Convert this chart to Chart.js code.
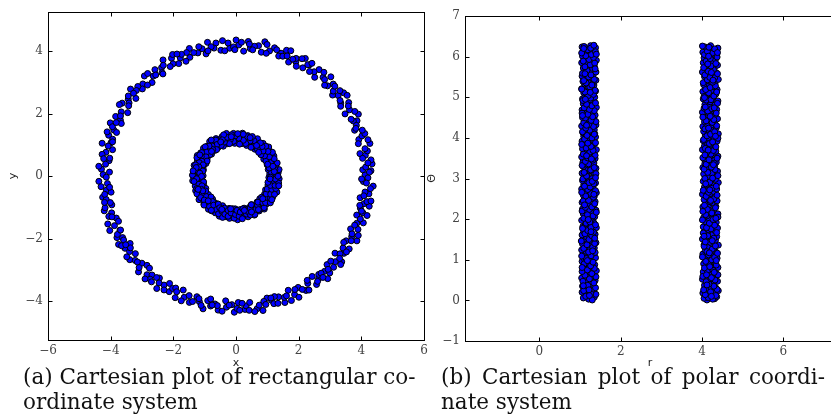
<!DOCTYPE html>
<html>
<head>
<meta charset="utf-8">
<script src="https://cdn.jsdelivr.net/npm/chart.js@4.4.1/dist/chart.umd.min.js"></script>
<style>
  html, body { margin: 0; padding: 0; width: 831px; height: 417px; overflow: hidden; background: #fff; }
  canvas { position: absolute; top: 0; }
  #cartesian { left: 0; }
  #polar { left: 420px; }
  .caption { position: absolute; top: 364px; font-family: "DejaVu Serif", serif; font-size: 21.5px; line-height: 25px; color: #111; }
  .caption div { white-space: nowrap; }
  #capB .first { white-space: normal; text-align: justify; text-align-last: justify; }
  #capA { left: 23px; width: 400px; }
  #capB { left: 441px; width: 384px; }
</style>
</head>
<body>
<canvas id="cartesian" width="440" height="370"></canvas>
<canvas id="polar" width="430" height="372"></canvas>
<div class="caption" id="capA"><div class="first">(a) Cartesian plot of rectangular co-</div><div>ordinate system</div></div>
<div class="caption" id="capB"><div class="first">(b) Cartesian plot of polar coordi-</div><div>nate system</div></div>
<script>
// samples as [r, theta]
const outerRing = [
  [4.12,0.01],[4.31,0.04],[4.05,0.05],[4.36,0.09],[4.18,0.16],[4.02,0.18],[4.27,0.19],[4.40,0.24],[4.09,0.29],[4.22,0.31],
  [4.33,0.32],[4.06,0.37],[4.25,0.43],[4.14,0.44],[4.38,0.47],[4.01,0.52],[4.20,0.53],[4.30,0.58],[4.08,0.61],[4.35,0.66],
  [4.16,0.67],[4.03,0.70],[4.28,0.76],[4.11,0.78],[4.39,0.81],[4.21,0.85],[4.04,0.90],[4.32,0.91],[4.17,0.93],[4.26,0.99],
  [4.07,1.02],[4.37,1.04],[4.13,1.09],[4.23,1.10],[4.02,1.14],[4.34,1.19],[4.19,1.22],[4.08,1.23],[4.29,1.28],[4.15,1.31],
  [4.40,1.36],[4.05,1.37],[4.24,1.40],[4.11,1.46],[4.33,1.48],[4.01,1.51],[4.20,1.55],[4.36,1.57],[4.10,1.62],[4.27,1.63],
  [4.06,1.69],[4.31,1.72],[4.16,1.74],[4.38,1.78],[4.03,1.81],[4.22,1.83],[4.13,1.87],[4.35,1.92],[4.08,1.94],[4.26,1.95],
  [4.18,2.01],[4.04,2.04],[4.30,2.07],[4.12,2.08],[4.39,2.13],[4.21,2.17],[4.07,2.19],[4.28,2.22],[4.15,2.26],[4.02,2.30],
  [4.34,2.31],[4.19,2.36],[4.09,2.39],[4.25,2.40],[4.37,2.45],[4.05,2.48],[4.23,2.52],[4.14,2.54],[4.32,2.57],[4.01,2.61],
  [4.20,2.63],[4.29,2.68],[4.10,2.69],[4.36,2.74],[4.17,2.78],[4.06,2.79],[4.27,2.83],[4.13,2.88],[4.40,2.90],[4.03,2.93],
  [4.22,2.96],[4.33,2.98],[4.08,3.02],[4.18,3.05],[4.30,3.09],[4.04,3.11],[4.24,3.13],[4.38,3.18],[4.11,3.20],[4.16,3.25],
  [4.02,3.27],[4.31,3.30],[4.21,3.32],[4.07,3.37],[4.35,3.40],[4.14,3.43],[4.26,3.45],[4.05,3.48],[4.19,3.53],[4.39,3.55],
  [4.09,3.58],[4.28,3.62],[4.12,3.64],[4.34,3.67],[4.01,3.71],[4.23,3.72],[4.17,3.76],[4.06,3.80],[4.32,3.81],[4.20,3.84],
  [4.10,3.89],[4.37,3.92],[4.03,3.93],[4.25,3.98],[4.15,4.01],[4.29,4.02],[4.08,4.07],[4.40,4.10],[4.18,4.13],[4.04,4.16],
  [4.27,4.19],[4.13,4.20],[4.35,4.25],[4.02,4.28],[4.22,4.31],[4.11,4.34],[4.31,4.36],[4.06,4.40],[4.19,4.43],[4.38,4.47],
  [4.09,4.49],[4.24,4.52],[4.15,4.55],[4.33,4.58],[4.01,4.63],[4.21,4.64],[4.12,4.68],[4.36,4.70],[4.05,4.73],[4.28,4.78],
  [4.17,4.79],[4.07,4.82],[4.30,4.87],[4.20,4.89],[4.39,4.91],[4.03,4.96],[4.14,4.99],[4.26,5.00],[4.10,5.05],[4.34,5.08],
  [4.18,5.09],[4.02,5.14],[4.23,5.17],[4.37,5.19],[4.08,5.22],[4.29,5.26],[4.13,5.30],[4.04,5.31],[4.32,5.35],[4.21,5.39],
  [4.11,5.41],[4.40,5.44],[4.16,5.46],[4.06,5.51],[4.27,5.53],[4.19,5.57],[4.35,5.60],[4.01,5.62],[4.24,5.66],[4.12,5.69],
  [4.30,5.71],[4.08,5.75],[4.38,5.79],[4.17,5.80],[4.03,5.85],[4.25,5.87],[4.14,5.91],[4.33,5.93],[4.05,5.97],[4.22,6.00],
  [4.10,6.03],[4.36,6.06],[4.18,6.07],[4.02,6.11],[4.28,6.15],[4.15,6.16],[4.39,6.21],[4.07,6.24],[4.21,6.27],
  [4.26,0.03],[4.15,0.07],[4.34,0.12],[4.08,0.14],[4.21,0.21],[4.37,0.27],[4.04,0.26],[4.29,0.35],[4.17,0.40],[4.10,0.46],
  [4.32,0.50],[4.23,0.56],[4.02,0.59],[4.39,0.63],[4.13,0.72],[4.27,0.74],[4.06,0.80],[4.19,0.83],[4.35,0.87],[4.09,0.96],
  [4.24,1.00],[4.31,1.06],[4.01,1.07],[4.16,1.12],[4.38,1.16],[4.12,1.20],[4.25,1.26],[4.05,1.33],[4.33,1.34],[4.20,1.43],
  [4.08,1.44],[4.29,1.53],[4.14,1.59],[4.03,1.66],[4.36,1.67],[4.22,1.76],[4.11,1.79],[4.31,1.85],[4.18,1.90],[4.01,1.98],
  [4.27,1.99],[4.39,2.05],[4.09,2.11],[4.24,2.15],[4.13,2.24],[4.33,2.28],[4.06,2.34],[4.20,2.43],[4.29,2.50],[4.10,2.56],
  [4.37,2.59],[4.16,2.66],[4.03,2.71],[4.25,2.76],[4.35,2.81],[4.11,2.85],[4.19,2.91],[4.07,3.00],[4.26,3.01],[4.39,3.07],
  [4.14,3.15],[4.32,3.22],[4.05,3.23],[4.23,3.28],[4.10,3.35],[4.30,3.38],[4.17,3.46],[4.37,3.50],[4.02,3.51],[4.22,3.60],
  [4.13,3.66],[4.28,3.69],[4.08,3.74],[4.34,3.78],[4.18,3.86],[4.26,3.90],[4.04,3.96],[4.39,3.99],[4.12,4.05],[4.21,4.09],
  [4.31,4.15],[4.07,4.22],[4.16,4.24],[4.36,4.30],[4.25,4.38],[4.10,4.42],[4.29,4.45],[4.02,4.51],[4.19,4.57],[4.35,4.61],
  [4.14,4.66],[4.24,4.72],[4.08,4.76],[4.32,4.81],[4.38,4.85],[4.11,4.93],[4.22,4.94],[4.05,5.02],[4.29,5.03],[4.16,5.11],
  [4.36,5.13],[4.09,5.19],[4.20,5.24],[4.33,5.28],[4.03,5.36],[4.26,5.37],[4.13,5.43],[4.31,5.48],[4.19,5.49],[4.07,5.55],
  [4.38,5.58],[4.15,5.64],[4.28,5.68],[4.04,5.73],[4.22,5.77],[4.34,5.83],[4.10,5.89],[4.20,5.95],[4.37,5.99],[4.06,6.05],
  [4.26,6.09],[4.13,6.13],[4.31,6.19],[4.17,6.23],[4.01,6.26],[4.23,0.10],[4.12,0.38],[4.30,0.69],[4.18,1.17],[4.05,1.58],
  [4.34,2.02],[4.21,2.46],[4.09,2.87],[4.28,3.34],[4.15,3.70],[4.33,4.04],[4.20,4.53],[4.06,4.99],[4.27,5.42],[4.14,5.82],
  [4.38,6.10],[4.11,0.63],[4.25,1.47],[4.19,2.72],[4.07,3.58],[4.30,4.74],[4.23,5.61],[4.16,6.01],[4.35,0.98],[4.02,2.19]
];
const innerRing = [
  [1.21,0.03],[1.08,0.06],[1.35,0.08],[1.15,0.13],[1.39,0.15],[1.05,0.20],[1.27,0.22],[1.12,0.25],[1.33,0.28],[1.18,0.33],
  [1.06,0.35],[1.30,0.39],[1.24,0.41],[1.10,0.45],[1.37,0.49],[1.16,0.50],[1.04,0.55],[1.28,0.57],[1.20,0.60],[1.34,0.64],
  [1.09,0.68],[1.25,0.69],[1.40,0.73],[1.13,0.77],[1.31,0.80],[1.07,0.82],[1.22,0.87],[1.36,0.88],[1.17,0.92],[1.05,0.96],
  [1.29,0.98],[1.11,1.01],[1.38,1.05],[1.19,1.07],[1.26,1.12],[1.08,1.14],[1.32,1.16],[1.14,1.21],[1.04,1.24],[1.23,1.26],
  [1.35,1.29],[1.12,1.33],[1.29,1.35],[1.06,1.39],[1.39,1.42],[1.18,1.44],[1.25,1.48],[1.10,1.52],[1.33,1.54],[1.15,1.57],
  [1.05,1.61],[1.37,1.63],[1.21,1.66],[1.09,1.70],[1.30,1.73],[1.16,1.75],[1.40,1.79],[1.07,1.82],[1.24,1.85],[1.13,1.88],
  [1.34,1.91],[1.19,1.95],[1.04,1.97],[1.28,2.00],[1.11,2.04],[1.36,2.06],[1.22,2.10],[1.08,2.13],[1.31,2.15],[1.17,2.19],
  [1.39,2.22],[1.06,2.25],[1.26,2.27],[1.14,2.32],[1.33,2.34],[1.20,2.37],[1.05,2.41],[1.37,2.43],[1.10,2.47],[1.27,2.50],
  [1.16,2.52],[1.35,2.56],[1.08,2.59],[1.23,2.61],[1.40,2.65],[1.12,2.68],[1.30,2.71],[1.04,2.74],[1.18,2.76],[1.32,2.80],
  [1.09,2.84],[1.25,2.85],[1.38,2.89],[1.15,2.92],[1.06,2.95],[1.29,2.98],[1.21,3.01],[1.11,3.04],[1.36,3.07],[1.17,3.10],
  [1.05,3.13],[1.31,3.16],[1.24,3.19],[1.13,3.22],[1.39,3.25],[1.08,3.29],[1.27,3.31],[1.19,3.34],[1.34,3.38],[1.07,3.40],
  [1.22,3.44],[1.14,3.47],[1.37,3.49],[1.04,3.53],[1.28,3.55],[1.16,3.59],[1.33,3.62],[1.10,3.64],[1.25,3.68],[1.40,3.71],
  [1.06,3.73],[1.20,3.77],[1.30,3.80],[1.12,3.83],[1.36,3.86],[1.18,3.89],[1.05,3.92],[1.27,3.95],[1.15,3.98],[1.38,4.02],
  [1.09,4.04],[1.23,4.08],[1.32,4.11],[1.07,4.13],[1.19,4.17],[1.35,4.20],[1.13,4.23],[1.26,4.26],[1.04,4.29],[1.39,4.32],
  [1.17,4.35],[1.29,4.38],[1.10,4.41],[1.22,4.45],[1.34,4.47],[1.06,4.50],[1.16,4.54],[1.37,4.56],[1.24,4.60],[1.11,4.63],
  [1.31,4.65],[1.05,4.69],[1.20,4.72],[1.40,4.75],[1.14,4.78],[1.28,4.81],[1.08,4.84],[1.33,4.87],[1.18,4.90],[1.25,4.94],
  [1.06,4.96],[1.36,5.00],[1.12,5.02],[1.21,5.06],[1.30,5.09],[1.09,5.11],[1.38,5.15],[1.16,5.18],[1.04,5.21],[1.27,5.23],
  [1.19,5.27],[1.34,5.30],[1.11,5.33],[1.23,5.36],[1.07,5.39],[1.39,5.42],[1.15,5.45],[1.29,5.48],[1.05,5.52],[1.32,5.54],
  [1.20,5.57],[1.10,5.61],[1.37,5.63],[1.26,5.67],[1.13,5.70],[1.08,5.72],[1.35,5.76],[1.22,5.79],[1.17,5.82],[1.04,5.85],
  [1.31,5.88],[1.40,5.91],[1.14,5.94],[1.24,5.97],[1.06,6.01],[1.36,6.03],[1.19,6.07],[1.28,6.10],[1.09,6.13],[1.33,6.16],
  [1.16,6.19],[1.38,6.22],[1.05,6.24],[1.26,6.27],
  [1.30,0.01],[1.14,0.10],[1.26,0.17],[1.09,0.24],[1.38,0.31],[1.19,0.37],[1.34,0.43],[1.07,0.47],[1.23,0.53],[1.39,0.58],
  [1.12,0.62],[1.29,0.66],[1.05,0.71],[1.18,0.75],[1.35,0.79],[1.26,0.85],[1.10,0.90],[1.32,0.94],[1.15,1.03],[1.04,1.09],
  [1.27,1.10],[1.37,1.18],[1.21,1.19],[1.09,1.28],[1.31,1.31],[1.17,1.37],[1.36,1.40],[1.03,1.46],[1.22,1.50],[1.29,1.59],
  [1.12,1.64],[1.33,1.68],[1.19,1.72],[1.06,1.77],[1.27,1.80],[1.38,1.86],[1.15,1.90],[1.24,1.93],[1.09,2.02],[1.32,2.08],
  [1.18,2.11],[1.40,2.17],[1.05,2.20],[1.23,2.24],[1.13,2.29],[1.29,2.30],[1.36,2.38],[1.08,2.45],[1.21,2.46],[1.33,2.54],
  [1.14,2.57],[1.27,2.63],[1.04,2.66],[1.38,2.70],[1.19,2.73],[1.25,2.79],[1.11,2.81],[1.34,2.87],[1.22,2.90],[1.07,2.99],
  [1.30,3.00],[1.16,3.06],[1.39,3.12],[1.10,3.15],[1.26,3.21],[1.35,3.27],[1.05,3.32],[1.21,3.36],[1.13,3.42],[1.31,3.45],
  [1.18,3.51],[1.37,3.57],[1.08,3.60],[1.24,3.65],[1.32,3.69],[1.15,3.75],[1.27,3.79],[1.04,3.84],[1.38,3.88],[1.20,3.93],
  [1.11,3.97],[1.29,4.00],[1.17,4.06],[1.36,4.10],[1.06,4.15],[1.24,4.19],[1.14,4.24],[1.33,4.28],[1.21,4.33],[1.09,4.37],
  [1.39,4.40],[1.27,4.43],[1.13,4.49],[1.31,4.52],[1.19,4.58],[1.05,4.61],[1.35,4.67],[1.23,4.70],[1.10,4.74],[1.29,4.79],
  [1.16,4.83],[1.38,4.86],[1.07,4.92],[1.26,4.98],[1.20,5.04],[1.33,5.07],[1.12,5.13],[1.37,5.17],[1.04,5.20],[1.24,5.25],
  [1.30,5.32],[1.15,5.35],[1.09,5.41],[1.35,5.44],[1.21,5.50],[1.27,5.55],[1.06,5.59],[1.39,5.62],[1.17,5.66],[1.31,5.71],
  [1.12,5.75],[1.25,5.80],[1.36,5.84],[1.08,5.89],[1.22,5.93],[1.33,5.98],[1.14,6.02],[1.28,6.05],[1.04,6.09],[1.38,6.12],
  [1.19,6.17],[1.26,6.21],[1.10,6.25],[1.34,6.28],[1.23,0.12],[1.18,0.98],[1.36,1.53],[1.11,2.35],[1.30,2.93],[1.16,3.56],
  [1.35,4.09],[1.06,4.55],[1.25,5.12],[1.37,5.70],[1.08,0.36],[1.31,1.22],[1.20,1.99],[1.28,3.48],[1.13,4.95],[1.40,6.06],
  [1.05,0.81],[1.34,2.61],[1.16,4.31],[1.29,5.30],[1.09,6.20],[1.22,0.26],[1.38,3.02],[1.12,5.58],[1.27,1.69],[1.19,3.87]
];

const cartXTicks = [-6, -4, -2, 0, 2, 4, 6];
const cartYTicks = [-4, -2, 0, 2, 4];
const polarXTicks = [0, 2, 4, 6];
const polarYTicks = [-1, 0, 1, 2, 3, 4, 5, 6, 7];

const samples = outerRing.concat(innerRing);
const cartPoints = samples.map(([r, t]) => ({ x: r * Math.cos(t), y: r * Math.sin(t) }));
const polarPoints = samples.map(([r, t]) => ({ x: r, y: t }));

const fmt = v => v < 0 ? '\u2212' + Math.abs(v) : String(v);
const tickFont = { family: '"DejaVu Serif", serif', size: 12 };

// matplotlib-style box: full frame, ticks pointing inward, plain axis labels
const frame = {
  id: 'frame',
  afterDraw(chart, args, o) {
    const { ctx, chartArea: a, scales: { x, y } } = chart;
    const L = Math.round(a.left) + 0.5, R = Math.round(a.right) + 0.5;
    const T = Math.round(a.top) + 0.5, B = Math.round(a.bottom) + 0.5;
    ctx.save();
    ctx.strokeStyle = '#000';
    ctx.lineWidth = 1;
    ctx.strokeRect(L, T, R - L, B - T);
    ctx.beginPath();
    x.ticks.forEach(t => {
      const px = Math.round(x.getPixelForValue(t.value)) + 0.5;
      ctx.moveTo(px, B); ctx.lineTo(px, B - 4);
      ctx.moveTo(px, T); ctx.lineTo(px, T + 4);
    });
    y.ticks.forEach(t => {
      const py = Math.round(y.getPixelForValue(t.value)) + 0.5;
      ctx.moveTo(L, py); ctx.lineTo(L + 4, py);
      ctx.moveTo(R, py); ctx.lineTo(R - 4, py);
    });
    ctx.stroke();

    ctx.fillStyle = '#222';
    ctx.font = '11px "DejaVu Sans", sans-serif';
    ctx.textAlign = 'center';
    ctx.textBaseline = 'middle';
    ctx.fillText(o.xLabel, (a.left + a.right) / 2, a.bottom + o.xGap);
    ctx.translate(a.left - o.yGap, (a.top + a.bottom) / 2);
    ctx.rotate(-Math.PI / 2);
    ctx.fillText(o.yLabel, 0, 0);
    ctx.restore();
  }
};

function axis(min, max, ticks, size, horizontal) {
  return {
    type: 'linear', min, max,
    afterBuildTicks: s => { s.ticks = ticks.map(v => ({ value: v })); },
    afterFit: s => { if (horizontal) s.height = size; else s.width = size; },
    grid: { display: false, drawTicks: false },
    border: { display: false },
    ticks: { font: tickFont, color: '#444', padding: horizontal ? 4 : 5, autoSkip: false, maxRotation: 0, callback: fmt }
  };
}

function scatter(id, points, xs, ys, padding, labels) {
  return new Chart(document.getElementById(id), {
    type: 'scatter',
    data: { datasets: [{
      data: points,
      pointRadius: 3, pointHoverRadius: 3, borderWidth: 1,
      borderColor: '#000', backgroundColor: '#0000ff'
    }] },
    options: {
      responsive: false, animation: false, events: [],
      layout: { padding },
      plugins: { legend: { display: false }, tooltip: { enabled: false }, frame: labels },
      scales: { x: xs, y: ys }
    },
    plugins: [frame]
  });
}

scatter('cartesian', cartPoints,
  axis(-6, 6, cartXTicks, 30, true),
  axis(-5.25, 5.25, cartYTicks, 48, false),
  { top: 12, right: 16, left: 0, bottom: 0 },
  { xLabel: 'x', yLabel: 'y', xGap: 23, yGap: 35 });

scatter('polar', polarPoints,
  axis(-1.83, 7.27, polarXTicks, 31, true),
  axis(-1, 7, polarYTicks, 45, false),
  { top: 16, right: 15, left: 0, bottom: 0 },
  { xLabel: 'r', yLabel: 'Θ', xGap: 22, yGap: 33 });
</script>
</body>
</html>
